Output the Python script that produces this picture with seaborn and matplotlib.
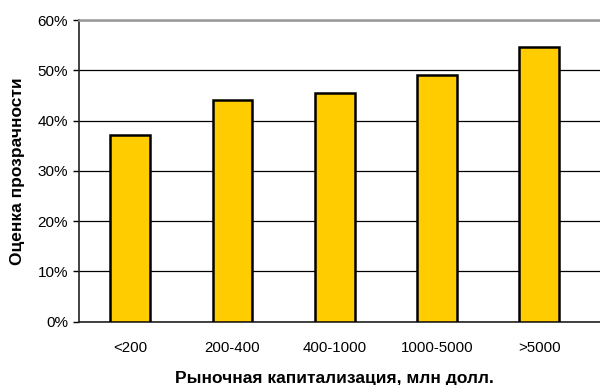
import matplotlib
matplotlib.use("Agg")
import matplotlib.pyplot as plt
import seaborn as sns
import pandas as pd
import numpy as np
from matplotlib.ticker import FixedLocator, PercentFormatter

categories = ["<200", "200-400", "400-1000", "1000-5000", ">5000"]
values = [37.2, 44.1, 45.4, 49.1, 54.6]
yticks = [0, 10, 20, 30, 40, 50, 60]

sns.set_theme(style="white")
plt.rcParams['font.family'] = ['Liberation Sans', 'DejaVu Sans']

df = pd.DataFrame({"cat": categories, "val": values})

W, H = 600, 385
fig = plt.figure(figsize=(W / 100, H / 100), dpi=100)
left, right, top, bottom = 79, 606, 20, 321.7
ax = fig.add_axes([left / W, 1 - bottom / H, (right - left) / W, (bottom - top) / H])

sns.barplot(data=df, x="cat", y="val", color="#FFCC00", edgecolor="black",
            linewidth=1.8, width=0.39, saturation=1, ax=ax, zorder=3)

step = 102.3
ax.set_xlim(-0.5, -0.5 + (right - left) / step)
ax.set_ylim(0, 60)
ax.set_yticks(yticks)
ax.yaxis.set_major_formatter(PercentFormatter(decimals=0))
ax.grid(axis="y", color="black", linewidth=0.9, zorder=0)
ax.set_axisbelow(True)

ax.xaxis.set_minor_locator(FixedLocator(np.arange(-0.5, len(categories), 1.0)))
ax.tick_params(axis="x", which="major", length=0, pad=14, labelsize=10.8, colors="black")
ax.tick_params(axis="x", which="minor", length=4, width=1, color="#333333", direction="out")
ax.tick_params(axis="y", length=4, width=1, direction="out", pad=4, labelsize=11,
               colors="black", left=True)

for s in ["left", "bottom"]:
    ax.spines[s].set_color("#222222")
    ax.spines[s].set_linewidth(1.2)
ax.spines["top"].set_color("#999999")
ax.spines["top"].set_linewidth(1.8)
ax.spines["right"].set_visible(False)

ax.set_xlabel("")
ax.set_ylabel("")
fig.text(334.5 / W, 1 - 378 / H, "Рыночная капитализация, млн долл.", ha="center",
         va="center", fontsize=12.5, fontweight="bold", color="black")
fig.text(18 / W, 1 - 171 / H, "Оценка прозрачности", ha="center", va="center",
         rotation=90, fontsize=12.5, fontweight="bold", color="black")

fig.savefig("out.png", dpi=100)
